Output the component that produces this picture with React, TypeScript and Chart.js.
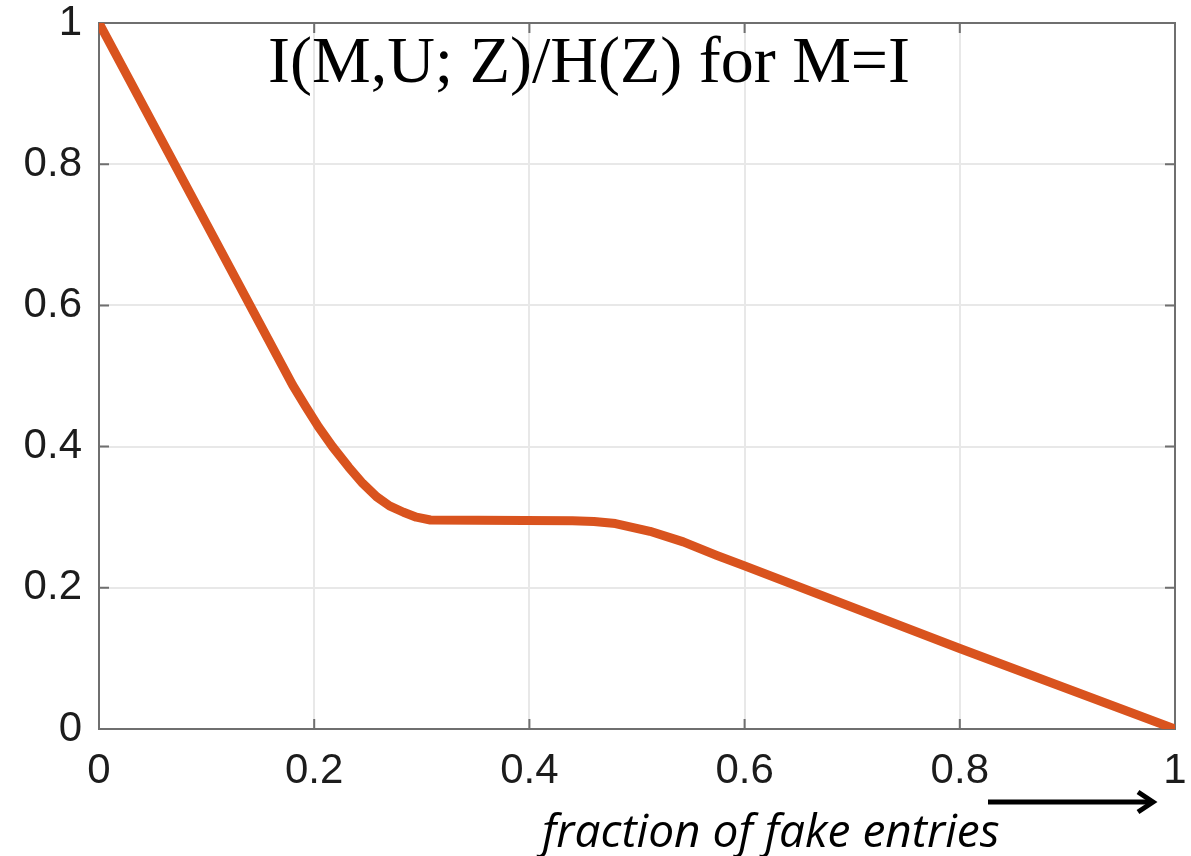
import React, { useEffect, useRef } from "react";
import { Chart, registerables } from "chart.js";

Chart.register(...registerables);

// ---- data ----
const fractionFake = [0, 0.18, 0.192, 0.204, 0.217, 0.232, 0.245, 0.258, 0.27, 0.283, 0.295, 0.308, 0.44, 0.46, 0.48, 0.512, 0.543, 0.574, 0.6, 0.8, 1];
const infoRatio = [1, 0.487, 0.457, 0.428, 0.4, 0.371, 0.348, 0.329, 0.316, 0.307, 0.3, 0.296, 0.295, 0.294, 0.291, 0.28, 0.265, 0.246, 0.231, 0.114, 0];

const xTickValues = [0, 0.2, 0.4, 0.6, 0.8, 1];
const xTickLabels = ["0", "0.2", "0.4", "0.6", "0.8", "1"];
const yTickValues = [0, 0.2, 0.4, 0.6, 0.8, 1];
const yTickLabels = ["0", "0.2", "0.4", "0.6", "0.8", "1"];

const titleText = "I(M,U; Z)/H(Z) for M=I";
const xAxisText = "fraction of fake entries";

// ---- styles ----
const LINE_COLOR = "#D9531E";
const AXIS_COLOR = "#6f6f6f";
const GRID_COLOR = "#e8e8e8";
const TICK_TEXT = "#1c1c1c";
const TICK_FONT = { family: "'Liberation Sans', Arial, Helvetica, sans-serif", size: 42, lineHeight: 1 };

const boxPlugin = {
  id: "matlabBox",
  beforeDatasetsDraw(chart: any) {
    const { ctx, chartArea, scales } = chart;
    const { left, right, top, bottom } = chartArea;
    ctx.save();
    ctx.strokeStyle = AXIS_COLOR;
    ctx.lineWidth = 2;
    ctx.beginPath();
    ctx.moveTo(left, top);
    ctx.lineTo(right, top);
    ctx.lineTo(right, bottom);
    ctx.stroke();
    const tl = 10;
    ctx.beginPath();
    xTickValues.forEach((v) => {
      const x = scales.x.getPixelForValue(v);
      ctx.moveTo(x, bottom);
      ctx.lineTo(x, bottom - tl);
      ctx.moveTo(x, top);
      ctx.lineTo(x, top + tl);
    });
    yTickValues.forEach((v) => {
      const y = scales.y.getPixelForValue(v);
      ctx.moveTo(left, y);
      ctx.lineTo(left + tl, y);
      ctx.moveTo(right, y);
      ctx.lineTo(right - tl, y);
    });
    ctx.stroke();
    ctx.restore();
  },
};

export default function App() {
  const canvasRef = useRef<HTMLCanvasElement | null>(null);

  useEffect(() => {
    document.body.style.margin = "0";
    const canvas = canvasRef.current;
    if (!canvas) return;
    const chart = new Chart(canvas, {
      type: "line",
      data: {
        datasets: [
          {
            data: fractionFake.map((x, i) => ({ x, y: infoRatio[i] })),
            borderColor: LINE_COLOR,
            borderWidth: 9,
            pointRadius: 0,
            tension: 0,
            borderJoinStyle: "round",
            fill: false,
          },
        ],
      },
      options: {
        animation: false,
        responsive: true,
        maintainAspectRatio: false,
        layout: { padding: { top: 23, right: 16, left: 0, bottom: 0 } },
        plugins: {
          legend: { display: false },
          title: { display: false },
          tooltip: { enabled: false },
        },
        scales: {
          x: {
            type: "linear",
            min: 0,
            max: 1,
            afterBuildTicks: (s: any) => {
              s.ticks = xTickValues.map((v) => ({ value: v }));
            },
            afterFit: (s: any) => {
              s.height = 127;
              s.paddingLeft = 0;
              s.paddingRight = 0;
            },
            ticks: {
              callback: (_v: any, i: number) => xTickLabels[i],
              font: TICK_FONT,
              color: TICK_TEXT,
              padding: 21,
              maxRotation: 0,
              autoSkip: false,
            },
            grid: { color: GRID_COLOR, lineWidth: 2, drawTicks: false },
            border: { display: true, color: AXIS_COLOR, width: 2 },
          },
          y: {
            type: "linear",
            min: 0,
            max: 1,
            afterBuildTicks: (s: any) => {
              s.ticks = yTickValues.map((v) => ({ value: v }));
            },
            afterFit: (s: any) => {
              s.width = 99;
              s.paddingTop = 0;
              s.paddingBottom = 0;
            },
            ticks: {
              callback: (_v: any, i: number) => yTickLabels[i],
              font: TICK_FONT,
              color: TICK_TEXT,
              padding: 17,
              autoSkip: false,
            },
            grid: { color: GRID_COLOR, lineWidth: 2, drawTicks: false },
            border: { display: true, color: AXIS_COLOR, width: 2 },
          },
        },
      },
      plugins: [boxPlugin],
    } as any);
    return () => chart.destroy();
  }, []);

  return (
    <div style={{ position: "fixed", left: 0, top: 0, width: 1191, height: 856, background: "#fff", overflow: "hidden" }}>
      <div style={{ position: "absolute", left: 0, top: 0, width: 1191, height: 856 }}>
        <canvas ref={canvasRef} />
      </div>
      <div
        style={{
          position: "absolute",
          left: 268,
          top: 27,
          fontFamily: "'Liberation Serif', 'Times New Roman', serif",
          fontSize: 66,
          lineHeight: 1,
          whiteSpace: "nowrap",
          color: "#000",
        }}
      >
        {titleText}
      </div>
      <div
        style={{
          position: "absolute",
          left: 542,
          top: 806,
          fontFamily: "'Open Sans', sans-serif",
          fontStyle: "italic",
          fontSize: 46,
          lineHeight: 1,
          whiteSpace: "nowrap",
          color: "#000",
        }}
      >
        {xAxisText}
      </div>
      <svg style={{ position: "absolute", left: 0, top: 0 }} width={1191} height={856}>
        <line x1={988} y1={802} x2={1151} y2={802} stroke="#000" strokeWidth={5} />
        <polyline points="1138,792 1153,802 1138,812" fill="none" stroke="#000" strokeWidth={5} strokeLinejoin="miter" />
      </svg>
    </div>
  );
}
